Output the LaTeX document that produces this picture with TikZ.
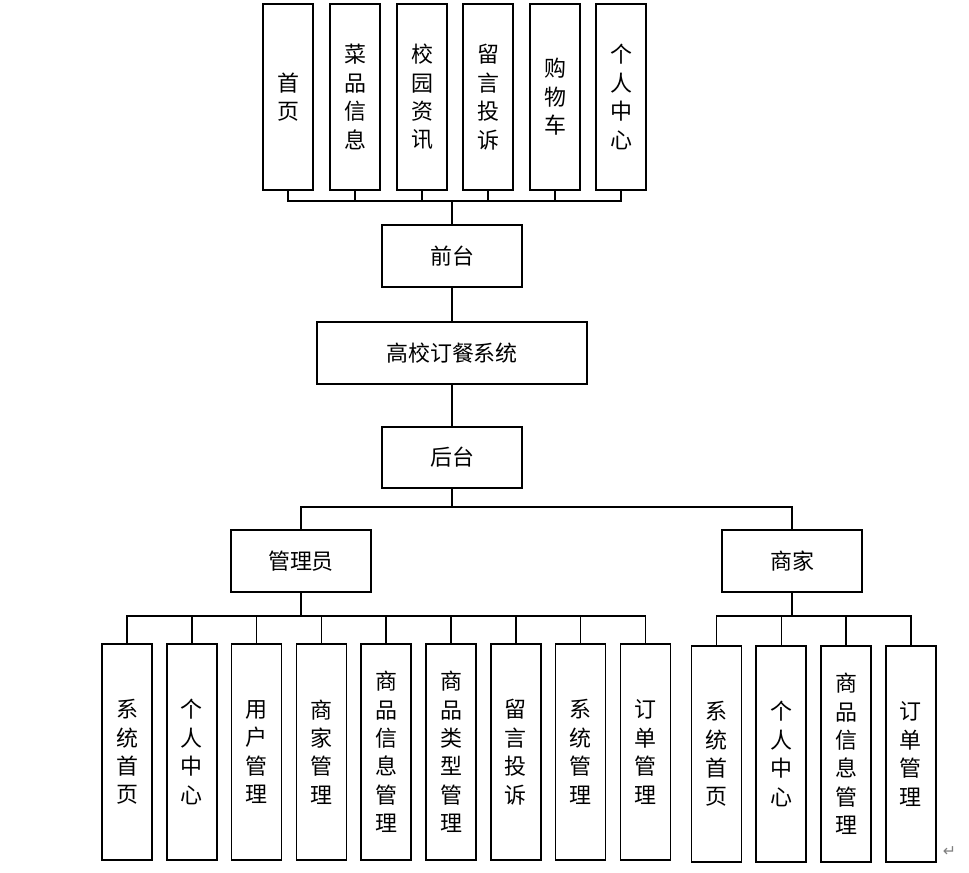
\documentclass[tikz,border=0pt]{standalone}
\usepackage{fontspec}
\setmainfont{Noto Sans CJK SC}
\newfontfamily\symfont{DejaVu Sans}
\usepackage{tikz}
\usetikzlibrary{positioning}

\begin{document}
\begin{tikzpicture}[
    x=0.02cm, y=-0.02cm,
    box/.style={rectangle, draw, line width=1pt, inner sep=0pt,
        font=\fontsize{12.5pt}{16.2pt}\selectfont},
    wide/.style={box, minimum width=2.8cm, minimum height=1.24cm},
    tall/.style={box, minimum width=1cm, minimum height=3.72cm, align=center},
    taller/.style={box, minimum width=1cm, minimum height=4.32cm, align=center},
    link/.style={line width=0.9pt},
    trunk/.style={line width=1.3pt}
]
    \useasboundingbox (0,0) rectangle (969,872);

    % Front end
    \node[tall] (home) at (288,97) {首\\页};
    \node[tall] (dish) at (355,97) {菜\\品\\信\\息};
    \node[tall] (news) at (422,97) {校\\园\\资\\讯};
    \node[tall] (msg) at (488,97) {留\\言\\投\\诉};
    \node[tall] (cart) at (555,97) {购\\物\\车};
    \node[tall] (mine) at (621,97) {个\\人\\中\\心};
    \coordinate (tbus) at (452,201);
    \node[wide] (front) at (452,256) {前台};

    % System
    \node[box, minimum width=5.4cm, minimum height=1.24cm] (sys) at (452,353) {高校订餐系统};

    % Back end
    \node[wide, minimum height=1.22cm] (back) at (452,457.5) {后台};
    \coordinate (bbus) at (452,507);
    \node[wide] (admin) at (301,561) {管理员};
    \node[wide] (merch) at (792,561) {商家};

    % Admin functions
    \coordinate (abus) at (301,616);
    \node[taller] (a1) at (127,752) {系\\统\\首\\页};
    \node[taller] (a2) at (191.8,752) {个\\人\\中\\心};
    \node[taller] (a3) at (256.6,752) {用\\户\\管\\理};
    \node[taller] (a4) at (321.4,752) {商\\家\\管\\理};
    \node[taller] (a5) at (386.2,752) {商\\品\\信\\息\\管\\理};
    \node[taller] (a6) at (451,752) {商\\品\\类\\型\\管\\理};
    \node[taller] (a7) at (515.8,752) {留\\言\\投\\诉};
    \node[taller] (a8) at (580.6,752) {系\\统\\管\\理};
    \node[taller] (a9) at (645.4,752) {订\\单\\管\\理};

    % Merchant functions
    \coordinate (mbus) at (792,616);
    \node[taller] (m1) at (716.5,754) {系\\统\\首\\页};
    \node[taller] (m2) at (781.3,754) {个\\人\\中\\心};
    \node[taller] (m3) at (846.1,754) {商\\品\\信\\息\\管\\理};
    \node[taller] (m4) at (910.9,754) {订\\单\\管\\理};

    \draw[link] (home.south) |- (tbus);
    \draw[link] (dish.south) |- (tbus);
    \draw[link] (news.south) |- (tbus);
    \draw[link] (msg.south) |- (tbus);
    \draw[link] (cart.south) |- (tbus);
    \draw[link] (mine.south) |- (tbus);
    \draw[trunk] (tbus) -- (front.north);
    \draw[link] (front.south) -- (sys.north);
    \draw[link] (sys.south) -- (back.north);
    \draw[trunk] (back.south) -- (bbus);
    \draw[link] (admin.north) |- (bbus);
    \draw[link] (merch.north) |- (bbus);

    \draw[trunk] (admin.south) -- (abus);
    \draw[link] (a1.north) |- (abus);
    \draw[link] (a2.north) |- (abus);
    \draw[link] (a3.north) |- (abus);
    \draw[link] (a4.north) |- (abus);
    \draw[link] (a5.north) |- (abus);
    \draw[link] (a6.north) |- (abus);
    \draw[link] (a7.north) |- (abus);
    \draw[link] (a8.north) |- (abus);
    \draw[link] (a9.north) |- (abus);

    \draw[trunk] (merch.south) -- (mbus);
    \draw[link] (m1.north) |- (mbus);
    \draw[link] (m2.north) |- (mbus);
    \draw[link] (m3.north) |- (mbus);
    \draw[link] (m4.north) |- (mbus);

    \node[text=gray, font=\symfont\small, right=0pt of m4.south east, anchor=south west] (mark) {↵};
\end{tikzpicture}
\end{document}
